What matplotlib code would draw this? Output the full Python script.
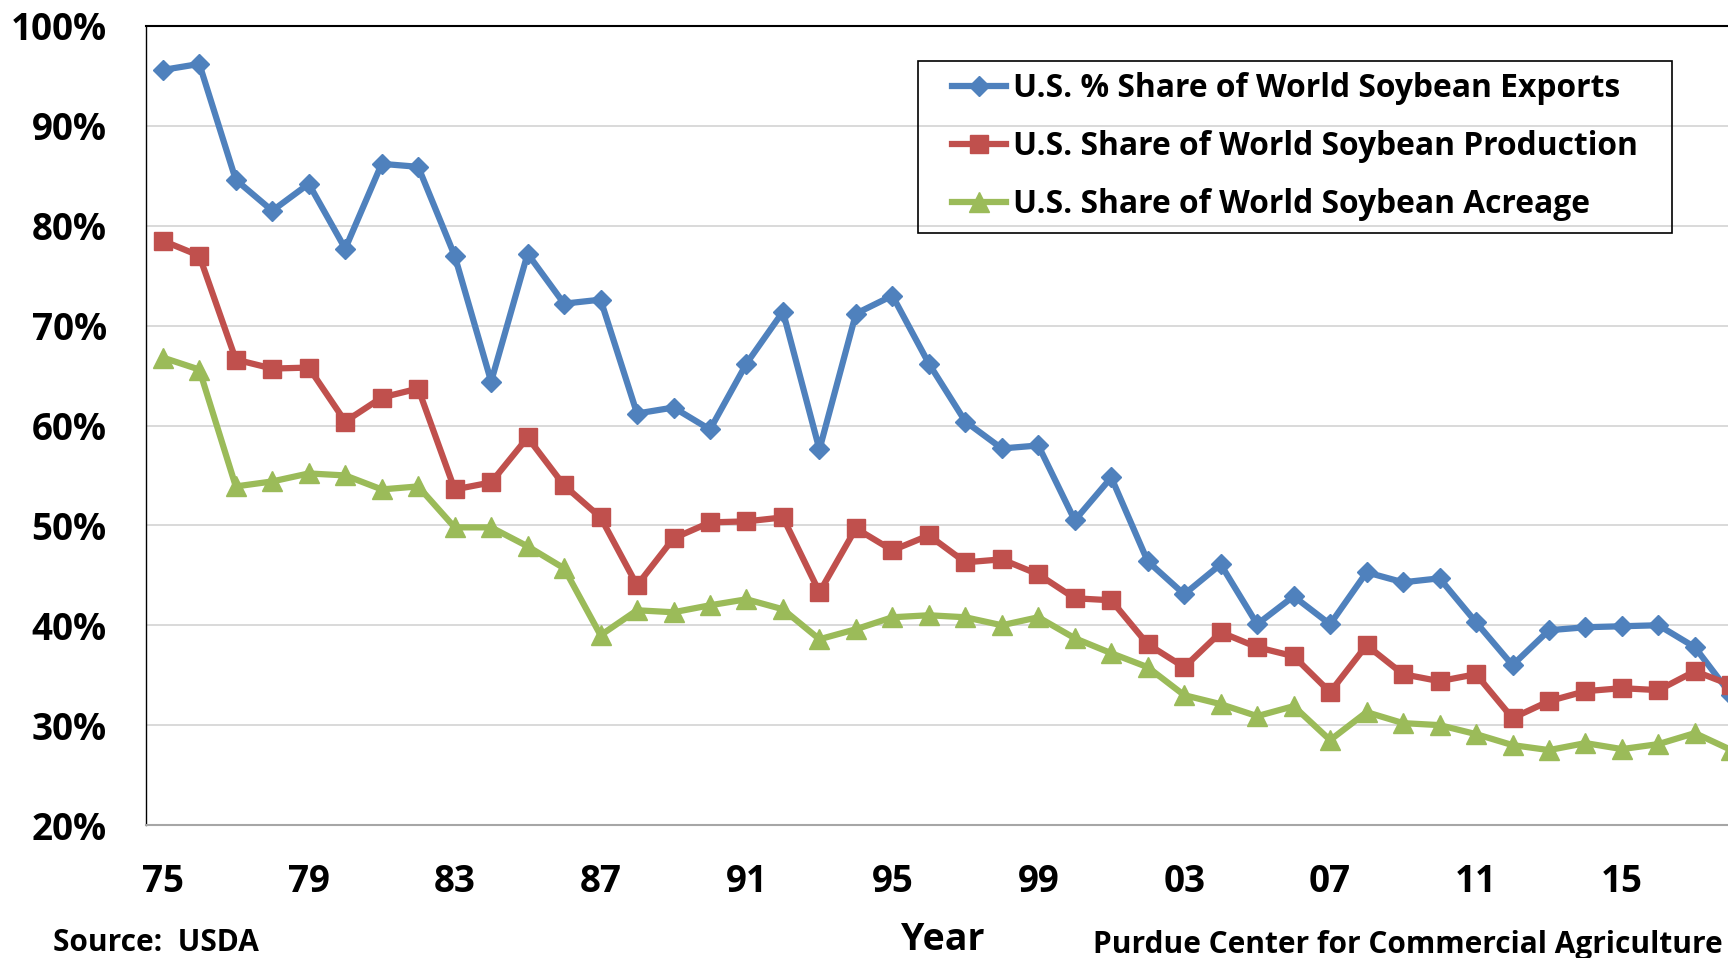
import matplotlib
matplotlib.use("Agg")
import matplotlib.pyplot as plt
from matplotlib.patches import Rectangle

years = list(range(1975, 2019))

exports = [95.6, 96.2, 84.6, 81.5, 84.2, 77.7, 86.2, 85.9, 77.0, 64.4,
           77.2, 72.2, 72.6, 61.2, 61.8, 59.6, 66.2, 71.4, 57.6, 71.2,
           73.0, 66.2, 60.4, 57.7, 58.0, 50.5, 54.8, 46.4, 43.1, 46.1,
           40.1, 42.9, 40.1, 45.3, 44.3, 44.7, 40.3, 36.0, 39.5, 39.8,
           39.9, 40.0, 37.8, 33.0]

production = [78.5, 77.0, 66.6, 65.7, 65.8, 60.4, 62.8, 63.7, 53.6, 54.3,
              58.8, 54.0, 50.8, 44.0, 48.7, 50.3, 50.4, 50.8, 43.3, 49.7,
              47.5, 49.0, 46.3, 46.6, 45.1, 42.7, 42.5, 38.1, 35.8, 39.3,
              37.8, 36.9, 33.3, 38.0, 35.1, 34.4, 35.1, 30.7, 32.4, 33.4,
              33.7, 33.5, 35.4, 34.0]

acreage = [66.8, 65.6, 53.9, 54.4, 55.2, 55.0, 53.6, 53.9, 49.8, 49.8,
           47.9, 45.7, 39.0, 41.5, 41.3, 42.0, 42.6, 41.6, 38.6, 39.6,
           40.8, 41.0, 40.8, 40.0, 40.8, 38.7, 37.2, 35.8, 33.0, 32.1,
           30.9, 31.9, 28.5, 31.3, 30.2, 30.0, 29.1, 28.0, 27.5, 28.2,
           27.6, 28.1, 29.2, 27.5]

labels = ["U.S. % Share of World Soybean Exports",
          "U.S. Share of World Soybean Production",
          "U.S. Share of World Soybean Acreage"]

xtick_years = list(range(1975, 2016, 4))
xtick_labels = ["75", "79", "83", "87", "91", "95", "99", "03", "07", "11", "15"]
yticks = list(range(20, 101, 10))

plt.rcParams["font.family"] = ["Open Sans", "DejaVu Sans"]
plt.rcParams["font.weight"] = "bold"

W, H = 1728, 958
fig = plt.figure(figsize=(W / 100, H / 100), dpi=100)
# plot area runs past the right edge of the picture, as in the original
ax = fig.add_axes([145.7 / W, 133 / H, 1605 / W, 799 / H])

ax.plot(years, exports, color="#4F81BD", lw=4.5, marker="D", ms=10, label=labels[0])
ax.plot(years, production, color="#C0504D", lw=4.5, marker="s", ms=13, label=labels[1])
ax.plot(years, acreage, color="#9BBB59", lw=4.5, marker="^", ms=14.5, label=labels[2])

ax.set_xlim(1974.53, 2018.53)
ax.set_ylim(20, 100)
ax.set_xticks(xtick_years)
ax.set_xticklabels(xtick_labels)
ax.set_yticks(yticks)
ax.set_yticklabels([f"{v}%" for v in yticks])
ax.tick_params(axis="both", length=0, labelsize=26.5)
ax.tick_params(axis="y", pad=28)
ax.tick_params(axis="x", pad=27)

ax.grid(axis="y", color="#D9D9D9", lw=1.4)
ax.set_axisbelow(True)
ax.spines["left"].set_color("black")
ax.spines["left"].set_linewidth(1.0)
ax.spines["top"].set_color("black")
ax.spines["top"].set_linewidth(1.5)
ax.spines["bottom"].set_color("#A6A6A6")
ax.spines["bottom"].set_linewidth(1.5)
ax.spines["right"].set_visible(False)

leg = ax.legend(loc="upper left", bbox_to_anchor=(941 / W, 1 - 61 / H),
                bbox_transform=fig.transFigure, frameon=False, fontsize=22.9,
                borderpad=0.35, borderaxespad=0, handlelength=1.7,
                handletextpad=0.2, labelspacing=0.79)

fig.text(943 / W, 8 / H, "Year", fontsize=27, ha="center", va="baseline")
fig.text(53 / W, 7 / H, "Source:  USDA", fontsize=21.5, ha="left", va="baseline")
fig.text(1093 / W, 5 / H, "Purdue Center for Commercial Agriculture", fontsize=21.5,
         ha="left", va="baseline")

# legend frame is wider than matplotlib's symmetric padding, so draw it around the legend
fig.canvas.draw()
bb = leg.get_window_extent()
fig.add_artist(Rectangle((bb.x0 - 23, bb.y0), bb.width + 46, bb.height,
                         transform=None, fill=False, edgecolor="black", lw=1.2))

fig.savefig("out.png", dpi=100)
